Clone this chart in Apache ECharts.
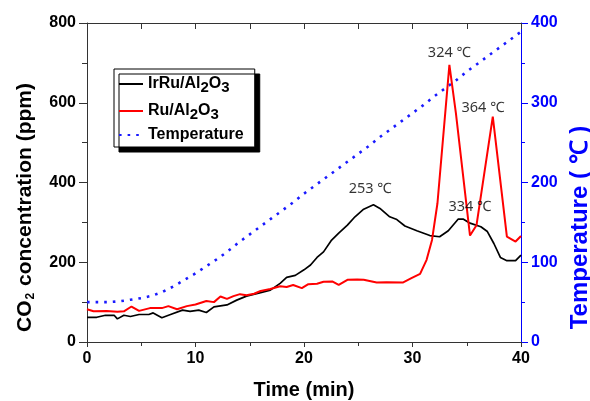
<!DOCTYPE html>
<html>
<head>
<meta charset="utf-8">
<script src="https://cdn.jsdelivr.net/npm/echarts@6/dist/echarts.min.js"></script>
<style>html,body{margin:0;padding:0;background:#fff;}#c{width:590px;height:401px;}</style>
</head>
<body>
<div id="c"></div>
<script>
// ---- data ----
var irruTime = [0,0.9,1.7,2.5,2.8,3.4,4.0,4.8,5.7,6.1,6.9,7.7,8.8,9.5,10.3,11.0,11.7,12.9,13.8,14.7,16.0,16.9,17.8,18.4,19.2,20.0,20.6,21.2,21.8,22.5,23.2,24.0,24.7,25.5,26.4,27.0,27.9,28.5,29.3,30.4,31.6,32.5,33.3,34.2,34.7,35.3,36.3,36.9,37.5,38.1,38.7,39.5,40.0];
var irruCO2 = [62,62,67,67,58,67,64,69,69,73,61,69,80,77,80,74,88,93,105,115,124,130,147,162,167,181,193,212,226,254,273,293,314,333,344,335,314,308,291,279,267,264,279,308,308,298,289,277,247,212,204,204,218];

var ruTime = [0,0.6,1.8,2.8,3.4,4.1,4.8,5.8,6.9,7.5,8.3,9.2,10.0,11.0,11.7,12.3,12.9,13.5,14.1,14.7,15.4,16.0,16.9,17.8,18.4,19.0,19.8,20.4,21.2,21.8,22.6,23.2,24.0,24.9,25.5,26.7,27.6,29.1,29.9,30.7,31.3,31.8,32.3,33.4,34.0,35.3,35.9,37.4,38.7,39.5,40.0];
var ruCO2 = [82,77,78,76,77,89,78,85,85,90,82,90,94,103,100,114,108,115,120,117,121,128,133,140,138,143,135,145,146,151,152,143,156,157,156,149,150,149,160,171,206,256,348,695,574,267,293,565,264,252,266];

var tempTime = [0,1,2,3,4,5,6,7,8,9,10,11,12,13,14,15,16,17,18,19,20,21,22,23,24,25,26,27,28,29,30,31,32,33,34,35,36,37,38,39,40];
var tempVal = [50,50,50,51,53,55,58,63,70,78,86,95,104,114,125,135,145,155,165,175,186,196,206,216,226,236,246,257,267,277,287,297,308,318,328,339,349,359,369,379,389];

var annTime = [26.1, 33.4, 36.5, 35.3];
var annCO2 = [384, 725, 587, 339];
var annText = ['253 \u2103', '324 \u2103', '364 \u2103', '334 \u2103'];

var xTicks = [0, 10, 20, 30, 40];
var yLeftTicks = [0, 200, 400, 600, 800];
var yRightTicks = [0, 100, 200, 300, 400];

function pairs(a, b) { return a.map(function (v, i) { return [v, b[i]]; }); }

var FONT = 'Liberation Sans, Arial, sans-serif';
var chart = echarts.init(document.getElementById('c'), null, {renderer: 'canvas'});

var legendNames = {
  'IrRu/Al2O3': '{a|IrRu/Al}{s|2}{a|O}{s|3}',
  'Ru/Al2O3': '{a|Ru/Al}{s|2}{a|O}{s|3}',
  'Temperature': '{a|Temperature}'
};

chart.setOption({
  animation: false,
  backgroundColor: '#fff',
  grid: {left: 87, right: 69, top: 23, bottom: 59, containLabel: false, outerBoundsMode: 'none'},
  legend: {
    orient: 'vertical',
    left: 114, top: 69,
    data: ['IrRu/Al2O3', 'Ru/Al2O3', 'Temperature'],
    itemWidth: 24, itemHeight: 12, itemGap: 5,
    padding: [4, 11, 4, 4],
    backgroundColor: '#fff',
    borderColor: '#000', borderWidth: 1,
    shadowColor: '#000', shadowBlur: 0, shadowOffsetX: 5, shadowOffsetY: 5,
    itemStyle: {opacity: 0},
    formatter: function (n) { return legendNames[n]; },
    textStyle: {
      fontFamily: FONT, fontWeight: 'bold', fontSize: 16, color: '#000',
      rich: {
        a: {fontFamily: FONT, fontWeight: 'bold', fontSize: 16, lineHeight: 20, color: '#000'},
        s: {fontFamily: FONT, fontWeight: 'bold', fontSize: 15, lineHeight: 14, padding: [7, 0, 0, 0], color: '#000'}
      }
    }
  },
  xAxis: [
    {
      type: 'value', min: 0, max: 40, interval: 10, position: 'bottom',
      axisLine: {show: true, onZero: false, lineStyle: {color: '#333', width: 1}},
      axisTick: {show: true, inside: false, length: 5, lineStyle: {color: '#333'}},
      minorTick: {show: true, splitNumber: 2, length: 4, lineStyle: {color: '#333'}},
      splitLine: {show: false},
      axisLabel: {fontFamily: FONT, fontWeight: 'bold', fontSize: 16, color: '#000', margin: 9,
        formatter: function (v) { return xTicks.indexOf(v) >= 0 ? String(v) : ''; }},
      name: 'Time (min)', nameLocation: 'middle', nameGap: 38,
      nameTextStyle: {fontFamily: FONT, fontWeight: 'bold', fontSize: 20, color: '#000'}
    },
    {
      type: 'value', min: 0, max: 40, interval: 5, position: 'top',
      axisLine: {show: true, onZero: false, lineStyle: {color: '#333', width: 1}},
      axisTick: {show: true, inside: true, length: 6, lineStyle: {color: '#333'}},
      axisLabel: {show: false}, splitLine: {show: false}
    }
  ],
  yAxis: [
    {
      type: 'value', min: 0, max: 800, interval: 200, position: 'left',
      axisLine: {show: true, onZero: false, lineStyle: {color: '#333', width: 1}},
      axisTick: {show: true, inside: false, length: 8, lineStyle: {color: '#333'}},
      minorTick: {show: true, splitNumber: 2, length: 5, lineStyle: {color: '#333'}},
      splitLine: {show: false},
      axisLabel: {fontFamily: FONT, fontWeight: 'bold', fontSize: 16, color: '#000', margin: 11,
        formatter: function (v) { return yLeftTicks.indexOf(v) >= 0 ? String(v) : ''; }},
      name: '{a|CO}{s|2}{a| concentration (ppm)}', nameLocation: 'middle', nameGap: 50, nameRotate: 90,
      nameTextStyle: {
        fontFamily: FONT, fontWeight: 'bold', fontSize: 21, color: '#000', padding: [0, 50, 0, 0],
        rich: {
          a: {fontFamily: FONT, fontWeight: 'bold', fontSize: 21, lineHeight: 24, color: '#000'},
          s: {fontFamily: FONT, fontWeight: 'bold', fontSize: 12, lineHeight: 12, padding: [12, 1, 0, 1], color: '#000'}
        }
      }
    },
    {
      type: 'value', min: 0, max: 400, interval: 100, position: 'right',
      axisLine: {show: true, onZero: false, lineStyle: {color: '#0000ff', width: 1}},
      axisTick: {show: true, inside: false, length: 7, lineStyle: {color: '#0000ff'}},
      minorTick: {show: true, splitNumber: 2, length: 4, lineStyle: {color: '#0000ff'}},
      splitLine: {show: false},
      axisLabel: {fontFamily: FONT, fontWeight: 'bold', fontSize: 16, color: '#0000ff', margin: 10,
        formatter: function (v) { return yRightTicks.indexOf(v) >= 0 ? String(v) : ''; }},
      name: 'Temperature ( \u2103 )', nameLocation: 'middle', nameGap: 45, nameRotate: 90,
      nameTextStyle: {fontFamily: FONT, fontWeight: 'bold', fontSize: 24, color: '#0000ff', padding: [0, 90, 0, 0]}
    }
  ],
  series: [
    {
      name: 'IrRu/Al2O3', type: 'line', xAxisIndex: 0, yAxisIndex: 0,
      data: pairs(irruTime, irruCO2), symbol: 'none', smooth: false,
      color: '#000', itemStyle: {opacity: 0}, lineStyle: {color: '#000', width: 1.7}, z: 3
    },
    {
      name: 'Ru/Al2O3', type: 'line', xAxisIndex: 0, yAxisIndex: 0,
      data: pairs(ruTime, ruCO2), symbol: 'none',
      color: '#ff0000', itemStyle: {opacity: 0}, lineStyle: {color: '#ff0000', width: 2}, z: 4
    },
    {
      name: 'Temperature', type: 'line', xAxisIndex: 0, yAxisIndex: 1,
      data: pairs(tempTime, tempVal), symbol: 'none',
      color: '#1a1aff', itemStyle: {opacity: 0}, lineStyle: {color: '#1a1aff', width: 2.6, type: [2.6, 6], cap: 'butt'}, z: 2
    },
    {
      name: 'annotations', type: 'scatter', xAxisIndex: 0, yAxisIndex: 0,
      data: annTime.map(function (t, i) { return {value: [t, annCO2[i]], name: annText[i]}; }),
      symbolSize: 0, silent: true, z: 5,
      label: {show: true, position: 'inside', formatter: '{b}',
        fontFamily: 'Noto Sans, DejaVu Sans, sans-serif', fontSize: 14.5, color: '#000'}
    }
  ]
});
</script>
</body>
</html>
